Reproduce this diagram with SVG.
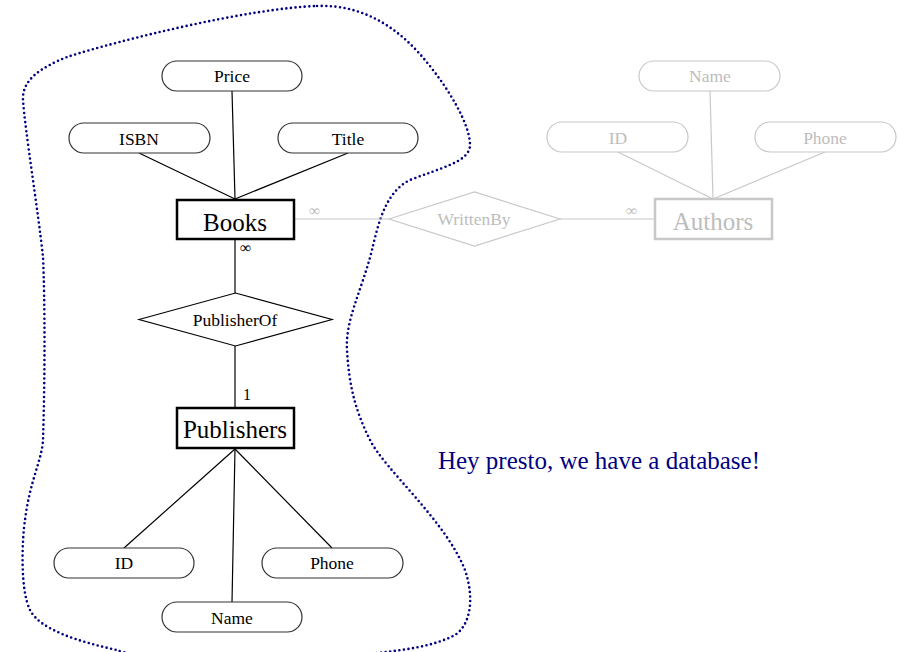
<svg xmlns="http://www.w3.org/2000/svg" width="905" height="652" viewBox="0 0 905 652">
<style>
text{text-anchor:middle}
.attr rect{fill:#fff;stroke:#333;stroke-width:1.2}
.attr text{font-size:17.5px;fill:#000}
.ent rect{fill:#fff;stroke:#000;stroke-width:2.5}
.ent text{font-size:25px;fill:#000}
.rel polygon{fill:#fff;stroke:#000;stroke-width:1.2}
.rel text{font-size:17.5px;fill:#000}
.grey rect,.grey polygon{stroke:#c8c8c8}
.grey text{fill:#bdbdbd}
.lines line{stroke:#000;stroke-width:1.2}
.lines .g{stroke:#c8c8c8}
.card{font-size:16px;fill:#000;text-anchor:start}
.card.g{fill:#bdbdbd}
</style>
<path id="blob" d="M317,6 C365,4 400,30 425,60 C450,90 470,125 470,145 C470,162 440,168 410,180 C385,192 378,225 372,250 C362,290 345,320 347,350 C349,385 355,410 370,440 C385,470 445,520 465,570 C475,600 470,625 455,635 C430,648 400,650 370,654 C300,664 150,664 117,650 C80,642 40,630 30,610 C20,590 22,540 25,520 C30,480 42,460 43,440 C45,380 45,300 43,257 C38,210 25,130 23,100 C22,80 40,68 67,57 C120,40 250,8 317,6 Z" fill="none" stroke="#000080" stroke-width="2.6" stroke-linecap="round" stroke-dasharray="0 4.6"/>
<g class="lines">
<line x1="139" y1="153" x2="235" y2="199"/>
<line x1="232" y1="91" x2="235" y2="199"/>
<line x1="348" y1="153" x2="235" y2="199"/>
<line x1="235" y1="239" x2="235" y2="293"/>
<line x1="235" y1="346" x2="235" y2="408"/>
<line x1="235" y1="449" x2="124" y2="548"/>
<line x1="235" y1="449" x2="232" y2="602"/>
<line x1="235" y1="449" x2="332" y2="548"/>
<line class="g" x1="294" y1="219" x2="389" y2="219"/>
<line class="g" x1="560" y1="219" x2="655" y2="219"/>
<line class="g" x1="618" y1="152" x2="713" y2="199"/>
<line class="g" x1="710" y1="91" x2="713" y2="199"/>
<line class="g" x1="825" y1="152" x2="713" y2="199"/>
</g>
<g font-family="'Liberation Serif', 'DejaVu Serif', serif">
<text class="card" x="240" y="253">∞</text>
<text class="card" x="243" y="400">1</text>
<text class="card g" x="309" y="216">∞</text>
<text class="card g" x="626" y="216">∞</text>
<g id="price" class="attr"><rect x="162" y="61" width="140" height="30" rx="15"/><text x="232" y="82">Price</text></g>
<g id="isbn" class="attr"><rect x="69" y="123" width="141" height="30" rx="15"/><text x="139" y="145">ISBN</text></g>
<g id="title" class="attr"><rect x="278" y="123" width="140" height="30" rx="15"/><text x="348" y="145">Title</text></g>
<g id="books" class="ent"><rect x="177" y="200" width="117" height="39"/><text x="235" y="231">Books</text></g>
<g id="publisherof" class="rel"><polygon points="139,319.5 235.5,293 332,319.5 235.5,346"/><text x="235" y="326">PublisherOf</text></g>
<g id="publishers" class="ent"><rect x="177" y="408" width="117" height="40"/><text x="235" y="438">Publishers</text></g>
<g id="pub-id" class="attr"><rect x="54" y="548" width="140" height="30" rx="15"/><text x="124" y="569">ID</text></g>
<g id="pub-phone" class="attr"><rect x="262" y="548" width="141" height="30" rx="15"/><text x="332" y="569">Phone</text></g>
<g id="pub-name" class="attr"><rect x="162" y="602" width="140" height="30" rx="15"/><text x="232" y="624">Name</text></g>
<g id="writtenby" class="rel grey"><polygon points="389,219 474.5,192 560,219 474.5,246"/><text x="474" y="225">WrittenBy</text></g>
<g id="authors" class="ent grey"><rect x="655" y="199" width="117" height="40"/><text x="713" y="230">Authors</text></g>
<g id="auth-name" class="attr grey"><rect x="639" y="61" width="141" height="30" rx="15"/><text x="710" y="82">Name</text></g>
<g id="auth-id" class="attr grey"><rect x="547" y="122" width="141" height="30" rx="15"/><text x="618" y="144">ID</text></g>
<g id="auth-phone" class="attr grey"><rect x="755" y="122" width="141" height="30" rx="15"/><text x="825" y="144">Phone</text></g>
<text x="599" y="469" style="font-size:25px;fill:#000080">Hey presto, we have a database!</text>
</g>
</svg>
